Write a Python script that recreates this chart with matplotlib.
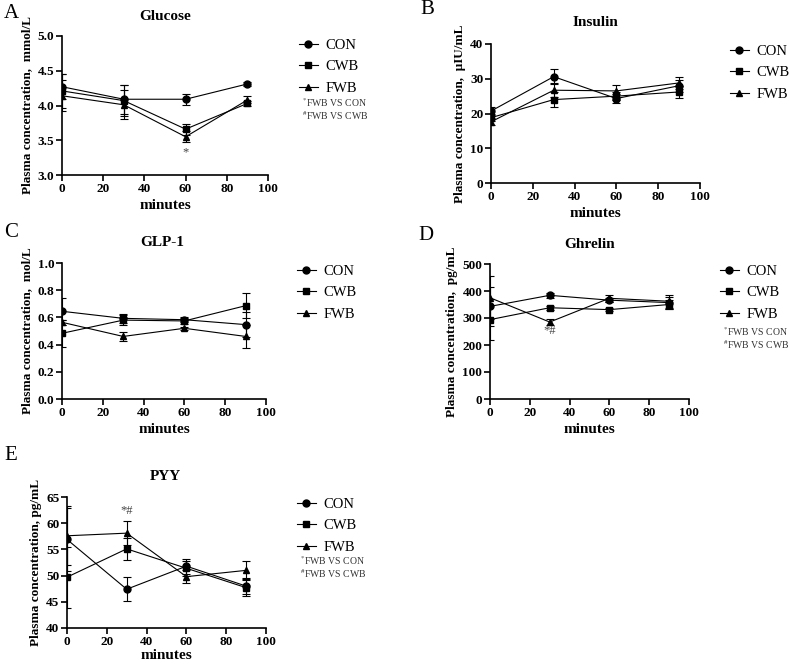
import matplotlib
matplotlib.use("Agg")
import matplotlib.pyplot as plt
from matplotlib.lines import Line2D

plt.rcParams['font.family'] = ['Liberation Serif', 'DejaVu Serif']
plt.rcParams['mathtext.fontset'] = 'stix'

minutes = [0, 30, 60, 90]
groups = ['CON', 'CWB', 'FWB']
markers = ['o', 's', '^']

# Glucose (mmol/L)
glu_mean = {'CON': [4.27, 4.09, 4.09, 4.31], 'CWB': [4.21, 4.07, 3.66, 4.03], 'FWB': [4.14, 4.01, 3.55, 4.08]}
glu_err = {'CON': [0.18, 0.21, 0.08, 0.03], 'CWB': [0.24, 0.22, 0.08, 0.03], 'FWB': [0.22, 0.21, 0.08, 0.05]}
# Insulin (uIU/mL)
ins_mean = {'CON': [20.7, 30.6, 24.3, 28.0], 'CWB': [18.8, 24.0, 25.0, 26.2], 'FWB': [17.6, 26.7, 26.5, 28.8]}
ins_err = {'CON': [1.2, 2.1, 1.2, 1.7], 'CWB': [1.1, 2.1, 1.2, 1.8], 'FWB': [1.0, 2.0, 1.8, 1.7]}
# GLP-1 (mol/L)
glp_mean = {'CON': [0.645, 0.593, 0.583, 0.547], 'CWB': [0.483, 0.58, 0.574, 0.686], 'FWB': [0.564, 0.46, 0.52, 0.46]}
glp_err = {'CON': [0.10, 0.035, 0.02, 0.09], 'CWB': [0.10, 0.035, 0.02, 0.09], 'FWB': [0.02, 0.035, 0.01, 0.085]}
# Ghrelin (pg/mL)
ghr_mean = {'CON': [343, 384, 366, 357], 'CWB': [294, 338, 331, 350], 'FWB': [375, 285, 373, 362]}
ghr_err = {'CON': [72, 10, 8, 22], 'CWB': [75, 8, 5, 18], 'FWB': [79, 10, 12, 25]}
# PYY (pg/mL)
pyy_mean = {'CON': [56.9, 47.4, 51.8, 48.0], 'CWB': [49.7, 55.1, 51.4, 47.7], 'FWB': [57.6, 58.1, 49.8, 51.0]}
pyy_err = {'CON': [6.0, 2.3, 1.4, 1.5], 'CWB': [5.8, 2.1, 1.4, 1.5], 'FWB': [5.6, 2.3, 1.3, 1.7]}

W, H = 789, 664
fig = plt.figure(figsize=(W / 100, H / 100), dpi=100)


def box(left, top, right, bottom):
    return [left / W, 1 - bottom / H, (right - left) / W, (bottom - top) / H]


def panel(rect, mean, err, ylim, yticks, yfmt, title, ylabel, letter, letter_xy,
          title_xy, leg_xy, notes_xy=None, stars=None, xpad=3):
    ax = fig.add_axes(box(*rect))
    for g, m in zip(groups, markers):
        ax.errorbar(minutes, mean[g], yerr=err[g], color='black', lw=0.8,
                    marker=m, ms=5, elinewidth=0.8, capsize=3, capthick=0.8)
    ax.set_xlim(0, 100)
    ax.set_ylim(*ylim)
    ax.set_xticks([0, 20, 40, 60, 80, 100])
    ax.set_yticks(yticks)
    ax.set_yticklabels([yfmt % v for v in yticks])
    for s in ['top', 'right']:
        ax.spines[s].set_visible(False)
    for s in ['left', 'bottom']:
        ax.spines[s].set_linewidth(1.2)
    ax.tick_params(width=1.2, length=4, labelsize=9.5, pad=1.5)
    for lab in ax.get_xticklabels() + ax.get_yticklabels():
        lab.set_fontweight('bold')
    ax.set_xlabel('minutes', fontsize=11, fontweight='bold', labelpad=xpad)
    ax.set_ylabel(ylabel, fontsize=9.5, fontweight='bold', labelpad=3)
    fig.text(title_xy[0] / W, 1 - title_xy[1] / H, title, fontsize=11,
             fontweight='bold', ha='center', va='center')
    fig.text(letter_xy[0] / W, 1 - letter_xy[1] / H, letter, fontsize=15,
             ha='left', va='center')
    handles = [Line2D([], [], color='black', lw=0.8, marker=m, ms=5) for m in markers]
    ax.legend(handles, groups, loc='upper left',
              bbox_to_anchor=(leg_xy[0] / W, 1 - leg_xy[1] / H),
              bbox_transform=fig.transFigure, frameon=False, fontsize=10.5,
              handlelength=1.3, handletextpad=0.5, labelspacing=0.55, borderpad=0,
              borderaxespad=0)
    if notes_xy is not None:
        fig.text(notes_xy[0] / W, 1 - notes_xy[1] / H, r'$^{*}$FWB VS CON',
                 fontsize=7, color='#333333', va='center')
        fig.text(notes_xy[0] / W, 1 - (notes_xy[1] + 13) / H, r'$^{\#}$FWB VS CWB',
                 fontsize=7, color='#333333', va='center')
    if stars is not None:
        x, y, s = stars
        ax.text(x, y, s, fontsize=9, color='#444444', ha='center', va='center')
    return ax


panel((62, 36, 268, 175), glu_mean, glu_err, (3.0, 5.0), [3.0, 3.5, 4.0, 4.5, 5.0], '%.1f',
      'Glucose', 'Plasma concentration,  mmol/L', 'A', (4, 14), (165, 16), (299, 39),
      notes_xy=(302, 103), stars=(60, 3.32, '*'))
panel((491, 44, 700, 183), ins_mean, ins_err, (0, 40), [0, 10, 20, 30, 40], '%d',
      'Insulin', 'Plasma concentration,  μIU/mL', 'B', (420, 10), (595, 22), (730, 45))
panel((62, 263, 266, 399), glp_mean, glp_err, (0, 1.0), [0.0, 0.2, 0.4, 0.6, 0.8, 1.0], '%.1f',
      'GLP-1', 'Plasma concentration,  mol/L', 'C', (4, 233), (162, 242), (297, 265))
panel((490, 264, 689, 399), ghr_mean, ghr_err, (0, 500), [0, 100, 200, 300, 400, 500], '%d',
      'Ghrelin', 'Plasma concentration,  pg/mL', 'D', (418, 235), (590, 245), (720, 265),
      notes_xy=(723, 332), stars=(30, 252, '*#'))
panel((67, 497, 266, 628), pyy_mean, pyy_err, (40, 65), [40, 45, 50, 55, 60, 65], '%d',
      'PYY', 'Plasma concentration, pg/mL', 'E', (4, 455), (165, 476), (297, 498),
      notes_xy=(300, 561), stars=(30, 62.3, '*#'), xpad=1)

fig.savefig('out.png', dpi=100)
